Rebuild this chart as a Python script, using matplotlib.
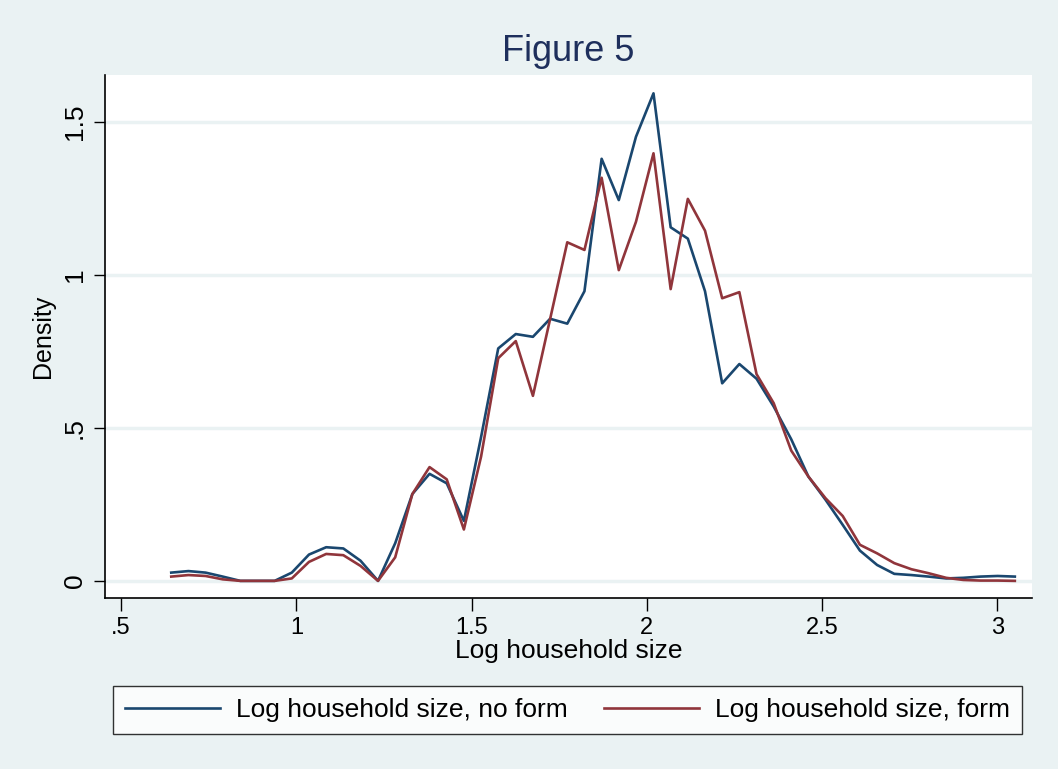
import matplotlib.pyplot as plt

plt.rcParams['font.family'] = ['Liberation Sans', 'DejaVu Sans']

# evaluation grid (log household size)
x = [0.643, 0.692, 0.741, 0.790, 0.840, 0.889, 0.938, 0.987, 1.036, 1.085,
     1.134, 1.183, 1.233, 1.282, 1.331, 1.380, 1.429, 1.478, 1.527, 1.576,
     1.626, 1.675, 1.724, 1.773, 1.822, 1.871, 1.920, 1.969, 2.019, 2.068,
     2.117, 2.166, 2.215, 2.264, 2.313, 2.362, 2.412, 2.461, 2.510, 2.559,
     2.608, 2.657, 2.706, 2.755, 2.804, 2.854, 2.903, 2.952, 3.001, 3.050]

dens_noform = [0.027, 0.032, 0.027, 0.014, 0.0, 0.0, 0.0, 0.027, 0.086, 0.110,
               0.106, 0.066, 0.0, 0.123, 0.284, 0.350, 0.319, 0.196, 0.470, 0.760,
               0.807, 0.798, 0.857, 0.841, 0.947, 1.380, 1.245, 1.452, 1.594, 1.156,
               1.119, 0.947, 0.646, 0.709, 0.661, 0.570, 0.463, 0.341, 0.265, 0.183,
               0.099, 0.052, 0.023, 0.019, 0.014, 0.008, 0.010, 0.014, 0.016, 0.014]

dens_form = [0.014, 0.019, 0.016, 0.005, 0.0, 0.0, 0.0, 0.008, 0.062, 0.088,
             0.084, 0.049, 0.0, 0.077, 0.284, 0.372, 0.332, 0.168, 0.406, 0.728,
             0.784, 0.605, 0.856, 1.107, 1.082, 1.318, 1.016, 1.174, 1.398, 0.954,
             1.249, 1.145, 0.924, 0.944, 0.676, 0.581, 0.426, 0.341, 0.270, 0.212,
             0.118, 0.090, 0.058, 0.038, 0.025, 0.010, 0.003, 0.001, 0.001, 0.0]

xticks = [0.5, 1, 1.5, 2, 2.5, 3]
xticklabels = ['.5', '1', '1.5', '2', '2.5', '3']
yticks = [0, 0.5, 1, 1.5]
yticklabels = ['0', '.5', '1', '1.5']

bg = '#eaf2f3'
navy = '#1a476f'
maroon = '#90353b'

fig = plt.figure(figsize=(10.58, 7.69), dpi=100, facecolor=bg)
ax = fig.add_axes([105/1058, 1 - 598/769, 927/1058, 523/769])
ax.set_facecolor('white')

ax.plot(x, dens_noform, color=navy, lw=1.9, label='Log household size, no form')
ax.plot(x, dens_form, color=maroon, lw=1.9, label='Log household size, form')

ax.set_xlim(0.454, 3.099)
ax.set_ylim(-0.056, 1.654)
ax.set_xticks(xticks)
ax.set_xticklabels(xticklabels, fontsize=17)
ax.set_yticks(yticks)
ax.set_yticklabels(yticklabels, fontsize=19, rotation=90, va='center')
ax.tick_params(axis='x', length=9, width=1, pad=5)
ax.tick_params(axis='y', length=8, width=1, pad=5)
ax.yaxis.grid(True, color=bg, lw=2.5)
ax.set_axisbelow(True)

for side in ['top', 'right']:
    ax.spines[side].set_visible(False)
for side in ['left', 'bottom']:
    ax.spines[side].set_linewidth(1.2)

ax.set_xlabel('Log household size', fontsize=19, labelpad=0)
ax.set_ylabel('Density', fontsize=18, labelpad=6)
ax.set_title('Figure 5', fontsize=26, color='#1e2f5c', pad=10)

leg = fig.legend(loc='center', ncol=2, mode='expand',
                 bbox_to_anchor=(113/1058, 1 - 735/769, 909/1058, 50/769),
                 fontsize=19, handlelength=3.6, handletextpad=0.6,
                 frameon=True, fancybox=False, edgecolor='black',
                 borderaxespad=0, borderpad=0.45)
leg.get_frame().set_linewidth(1.0)

plt.savefig('out.png', dpi=100, facecolor=bg)
